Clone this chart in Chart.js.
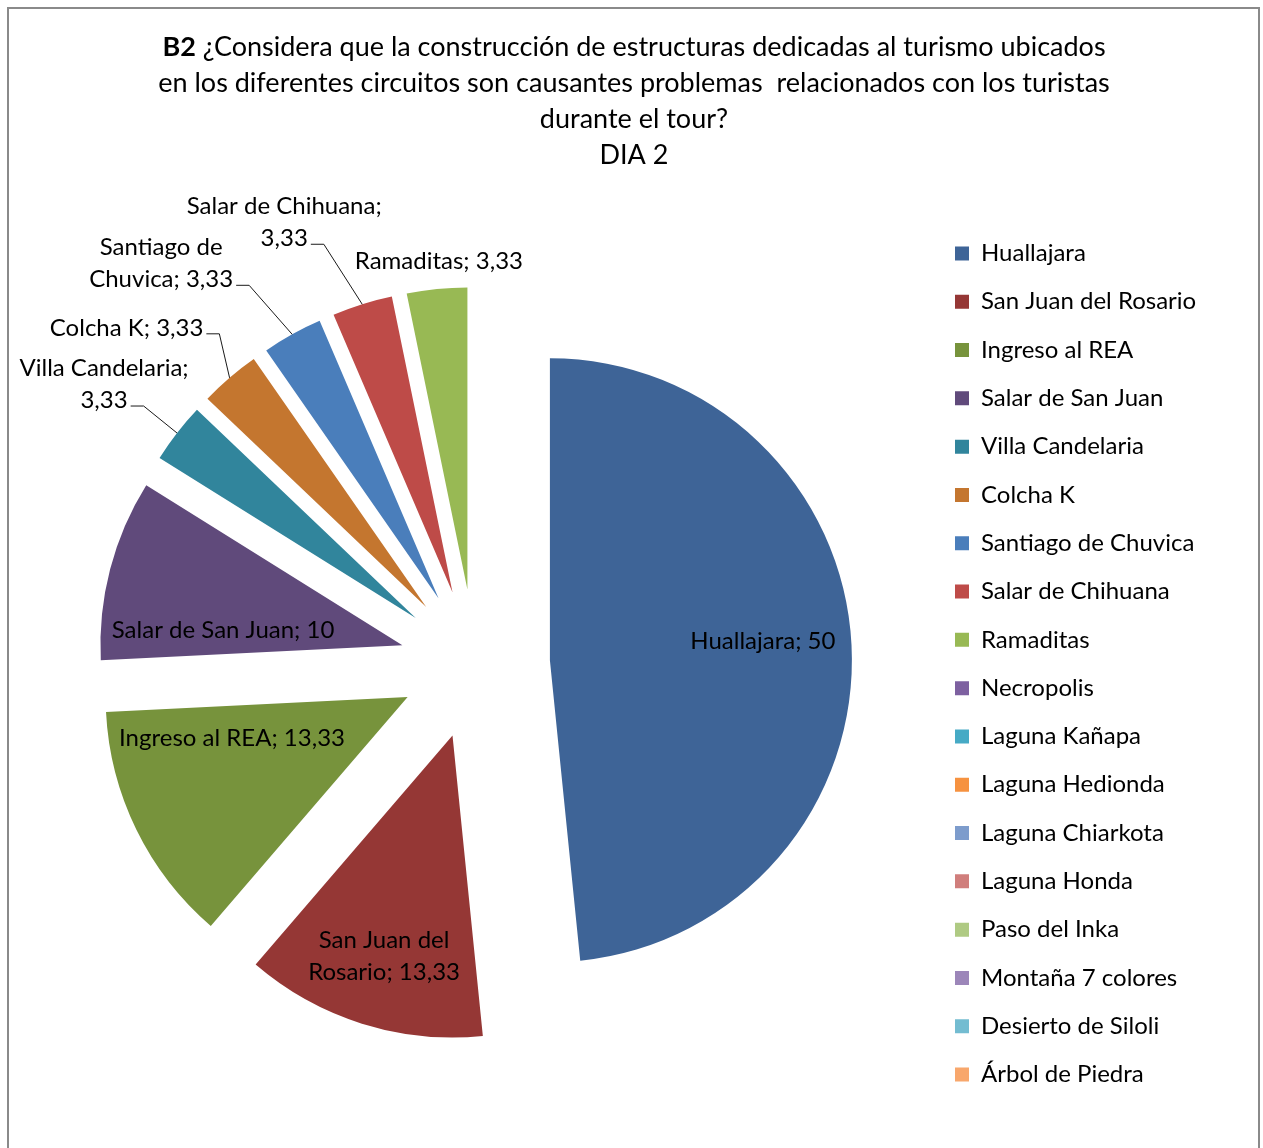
<!DOCTYPE html>
<html lang="es">
<head>
<meta charset="utf-8">
<title>B2 - DIA 2</title>
<script src="https://cdn.jsdelivr.net/npm/chart.js@4.4.1/dist/chart.umd.min.js"></script>
<style>
  html, body { margin: 0; padding: 0; background: #fff; }
  #wrap { position: relative; width: 1263px; height: 1148px; }
</style>
</head>
<body>
<div id="wrap"><canvas id="pieChart"></canvas></div>
<script>
const categories = [
    'Huallajara', 'San Juan del Rosario', 'Ingreso al REA', 'Salar de San Juan',
    'Villa Candelaria', 'Colcha K', 'Santiago de Chuvica', 'Salar de Chihuana',
    'Ramaditas', 'Necropolis', 'Laguna Kañapa', 'Laguna Hedionda',
    'Laguna Chiarkota', 'Laguna Honda', 'Paso del Inka', 'Montaña 7 colores',
    'Desierto de Siloli', 'Árbol de Piedra'
];
const values = [50, 13.33, 13.33, 10, 3.33, 3.33, 3.33, 3.33, 3.33, 0, 0, 0, 0, 0, 0, 0, 0, 0];
const colors = [
    '#3E6497', '#953735', '#77933C', '#604A7B', '#31859C', '#C4762F',
    '#4A7EBB', '#BE4B48', '#98B954', '#7D60A0', '#46AAC5', '#F69240',
    '#7D9CCC', '#D07E7C', '#AFCA83', '#9C86B9', '#73BCD1', '#F8A76C'
];
const titleBold = 'B2';
const titleLines = [
    'B2 ¿Considera que la construcción de estructuras dedicadas al turismo ubicados',
    'en los diferentes circuitos son causantes problemas  relacionados con los turistas',
    'durante el tour?',
    'DIA 2'
];

const FONT = 'Lato, "Open Sans", sans-serif';
const TITLE_SIZE = 27;
const LABEL_SIZE = 24;
const EXPLODE = 75;      // how far each slice is pulled out of the pie
const LINE_GAP = 32;
const LEGEND_PAD = 24.3;
const LEGEND_LEFT = 930.7;
const CANVAS_W = 1263;

// label spots: inside ones are polar from the slice tip (fraction of radius, angle turn in deg),
// outside ones are offsets from the slice rim, joined back with a leader line
const labelSpots = [
    { r: 0.708, turn: -2.2, wrap: 400 },
    { r: 0.764, turn: -0.2, wrap: 180 },
    { r: 0.597, turn: 13, wrap: 400 },
    { r: 0.596, turn: -9.7, wrap: 400 },
    { out: [-73, -49], wrap: 200 },
    { out: [-103, -50], wrap: 210 },
    { out: [-131, -71], wrap: 180 },
    { out: [-78, -82], wrap: 225 },
    { out: [2, -28], wrap: 400, noLine: true }
];

const fmt = v => String(v).replace('.', ',');

function wrapText(ctx, text, maxW) {
    const words = text.split(' ');
    const lines = [];
    let cur = '';
    words.forEach(w => {
        const test = cur ? cur + ' ' + w : w;
        if (cur && ctx.measureText(test).width > maxW) {
            lines.push(cur);
            cur = w;
        } else {
            cur = test;
        }
    });
    if (cur) lines.push(cur);
    return lines;
}

// frame + title with the bold question code
const frameAndTitle = {
    id: 'frameAndTitle',
    beforeDraw(chart) {
        const ctx = chart.ctx;
        ctx.save();
        ctx.fillStyle = '#fff';
        ctx.fillRect(0, 0, chart.width, chart.height);
        ctx.strokeStyle = '#8a8a8a';
        ctx.lineWidth = 2;
        ctx.strokeRect(8, 8, 1251, 1200);

        ctx.fillStyle = '#000';
        ctx.textBaseline = 'middle';
        ctx.textAlign = 'left';
        const cx = 634;
        const regular = TITLE_SIZE + 'px ' + FONT;
        const bolder = 'bold ' + TITLE_SIZE + 'px ' + FONT;
        titleLines.forEach((line, i) => {
            const y = 47 + i * 36;
            let bold = '';
            let rest = line;
            if (i === 0 && line.startsWith(titleBold)) {
                bold = titleBold;
                rest = line.slice(titleBold.length);
            }
            ctx.font = bolder;
            const bw = bold ? ctx.measureText(bold).width : 0;
            ctx.font = regular;
            const rw = ctx.measureText(rest).width;
            let x = cx - (bw + rw) / 2;
            if (bold) {
                ctx.font = bolder;
                ctx.fillText(bold, x, y);
                x += bw;
                ctx.font = regular;
            }
            ctx.fillText(rest, x, y);
        });
        ctx.restore();
    }
};

// pull every slice out along its middle angle
const explodeSlices = {
    id: 'explodeSlices',
    beforeDatasetDraw(chart, args) {
        const ctx = chart.ctx;
        args.meta.data.forEach(arc => {
            const mid = (arc.startAngle + arc.endAngle) / 2;
            ctx.save();
            ctx.translate(Math.cos(mid) * EXPLODE, Math.sin(mid) * EXPLODE);
            arc.draw(ctx);
            ctx.restore();
        });
        return false;
    }
};

// "Name; value" labels, inside the big slices and outside with leaders for the thin ones
const sliceLabels = {
    id: 'sliceLabels',
    afterDatasetsDraw(chart) {
        const ctx = chart.ctx;
        const meta = chart.getDatasetMeta(0);
        ctx.save();
        ctx.font = LABEL_SIZE + 'px ' + FONT;
        ctx.fillStyle = '#000';
        ctx.strokeStyle = '#1a1a1a';
        ctx.lineWidth = 1;
        ctx.textAlign = 'center';
        ctx.textBaseline = 'middle';
        meta.data.forEach((arc, i) => {
            const spot = labelSpots[i];
            if (!spot || !values[i]) return;
            const mid = (arc.startAngle + arc.endAngle) / 2;
            const tipX = arc.x + Math.cos(mid) * EXPLODE;
            const tipY = arc.y + Math.sin(mid) * EXPLODE;
            const lines = wrapText(ctx, categories[i] + '; ' + fmt(values[i]), spot.wrap);
            let cx, cy, rimX, rimY;
            if (spot.out) {
                rimX = tipX + Math.cos(mid) * arc.outerRadius;
                rimY = tipY + Math.sin(mid) * arc.outerRadius;
                cx = rimX + spot.out[0];
                cy = rimY + spot.out[1];
            } else {
                const a = mid + spot.turn * Math.PI / 180;
                cx = tipX + Math.cos(a) * arc.outerRadius * spot.r;
                cy = tipY + Math.sin(a) * arc.outerRadius * spot.r;
            }
            const top = cy - (lines.length - 1) * LINE_GAP / 2;
            lines.forEach((ln, k) => ctx.fillText(ln, cx, top + k * LINE_GAP));

            if (spot.out && !spot.noLine) {
                const last = lines[lines.length - 1];
                const lx = cx + ctx.measureText(last).width / 2 + 3;
                const ly = top + (lines.length - 1) * LINE_GAP + 6;
                ctx.beginPath();
                ctx.moveTo(lx, ly);
                ctx.lineTo(lx + 13, ly);
                ctx.lineTo(rimX, rimY);
                ctx.stroke();
            }
        });
        ctx.restore();
    }
};

const ctx = document.getElementById('pieChart').getContext('2d');

// legend box is clipped to its own width, so size it from the longest name
ctx.font = LABEL_SIZE + 'px ' + FONT;
const longest = Math.max(...categories.map(c => ctx.measureText(c).width));
const legendWidth = Math.ceil(LEGEND_PAD + 14 + LABEL_SIZE / 2 + longest + 5);

new Chart(ctx, {
    type: 'pie',
    data: {
        labels: categories,
        datasets: [{
            data: values,
            backgroundColor: colors,
            borderWidth: 0,
            radius: 302
        }]
    },
    options: {
        responsive: true,
        maintainAspectRatio: false,
        animation: false,
        events: [],
        layout: {
            padding: { top: 190, bottom: 10, left: 19.3, right: CANVAS_W - LEGEND_LEFT - legendWidth }
        },
        plugins: {
            title: { display: false },
            tooltip: { enabled: false },
            legend: {
                position: 'right',
                maxWidth: legendWidth,
                labels: {
                    boxWidth: 14,
                    boxHeight: 14,
                    padding: LEGEND_PAD,
                    color: '#000',
                    font: { family: FONT, size: LABEL_SIZE }
                }
            }
        }
    },
    plugins: [frameAndTitle, explodeSlices, sliceLabels]
});
</script>
</body>
</html>
